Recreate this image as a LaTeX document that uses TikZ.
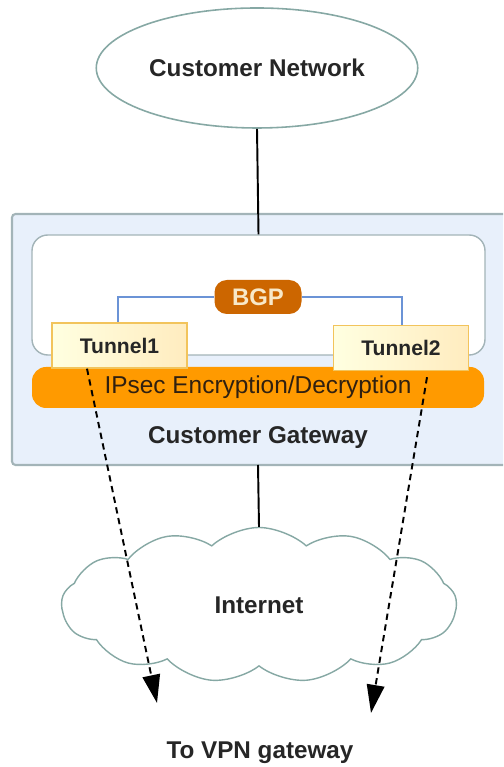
\documentclass[tikz,border=0pt]{standalone}
\usepackage{fontspec}
\setmainfont{Liberation Sans}
\usetikzlibrary{arrows.meta,shapes.geometric,shapes.symbols}

\definecolor{gwfill}{HTML}{E8F0FB}
\definecolor{gwline}{HTML}{A3B4B8}
\definecolor{netline}{HTML}{86A8A4}
\definecolor{bgpfill}{HTML}{CC6600}
\definecolor{bgptext}{HTML}{F8E8C8}
\definecolor{ipsecfill}{HTML}{FF9A00}
\definecolor{tunline}{HTML}{F2C45C}
\definecolor{bgpline}{HTML}{6B93D6}

\tikzset{
  bigtext/.style={font=\fontsize{13.8}{16}\selectfont\bfseries, text=black!85},
  tunnelbox/.style={draw=tunline, line width=0.8pt, left color=yellow!12, right color=yellow!40!orange!25,
    minimum width=2.7cm, minimum height=0.9cm, font=\fontsize{12}{14}\selectfont\bfseries, text=black!85},
  dasharrow/.style={dashed, dash pattern=on 3.6pt off 2.6pt, line width=1.1pt, -{Triangle[length=16pt,width=10pt]}},
  solidlink/.style={line width=1.1pt, black}
}

\begin{document}
\begin{tikzpicture}
			%%%%% START %%%%%
			\useasboundingbox (0, 0) rectangle (10.06, 15.34);
			\clip (0, 0) rectangle (10.06, 15.34);
			
			% customer network
			\node[ellipse, draw=netline, line width=0.9pt, fill=white, minimum width=5.94cm, minimum height=2.4cm, bigtext] (net) at (5.14, 13.98) {Customer Network};
			
			% gateway
			\draw[draw=gwline, fill=gwfill, line width=1.2pt, rounded corners=2pt] (0.24, 6.04) rectangle (10.3, 11.06);
			\node[draw=gwline, fill=white, line width=0.8pt, rounded corners=9pt, minimum width=9.06cm, minimum height=2.4cm] (inner) at (5.17, 9.44) {};
			\node[bigtext] (gw) at (5.16, 6.58) {Customer Gateway};
			
			\draw[solidlink] (net.south) -- (inner.north);
			
			\node[fill=bgpfill, rounded corners=7pt, minimum width=1.74cm, minimum height=0.68cm, text=bgptext, font=\fontsize{13.6}{16}\selectfont\bfseries] (bgp) at (5.16, 9.40) {BGP};
			
			\node[fill=ipsecfill, rounded corners=8pt, minimum width=9.04cm, minimum height=0.82cm, text=black!75!brown, font=\fontsize{13.9}{16}\selectfont] (ipsec) at (5.16, 7.59) {IPsec Encryption/Decryption};
			
			\node[tunnelbox] (t1) at (2.39, 8.43) {Tunnel1};
			\node[tunnelbox] (t2) at (8.02, 8.38) {Tunnel2};
			
			\draw[bgpline, line width=0.8pt] (bgp.west) -| (t1.north -| 2.36, 0);
			\draw[bgpline, line width=0.8pt] (bgp.east) -| (t2.north -| 8.04, 0);
			
			% internet
			\node[cloud, cloud puffs=13, cloud puff arc=85, cloud ignores aspect, draw=netline, line width=0.8pt, fill=white, minimum width=7.9cm, minimum height=3.1cm, bigtext] (inet) at (5.18, 3.24) {Internet};
			
			\draw[solidlink] (5.16, 6.04) -- (inet.north);
			
			\node[bigtext] (vpn) at (5.20, 0.28) {To VPN gateway};
			\coordinate (end1) at (3.14, 1.28);
			\coordinate (end2) at (7.42, 1.08);
			
			\draw[dasharrow] ([xshift=-0.65cm]t1.south) -- (end1);
			\draw[dasharrow] ([xshift=0.52cm, yshift=-0.12cm]t2.south) -- (end2);
			
			%%%%% END %%%%%
\end{tikzpicture}
\end{document}
